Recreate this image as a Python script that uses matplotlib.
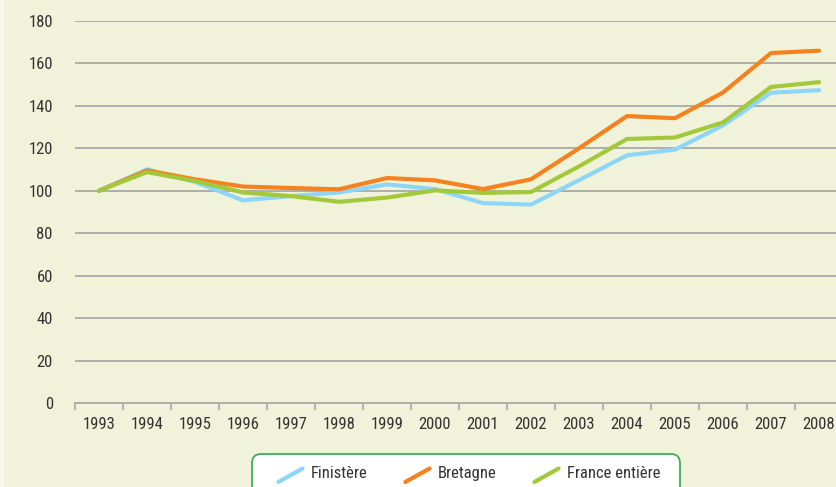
import matplotlib
matplotlib.use("Agg")
import matplotlib.pyplot as plt
from matplotlib import font_manager
from matplotlib.lines import Line2D
from matplotlib.legend_handler import HandlerBase
from matplotlib.patches import Rectangle, FancyBboxPatch

years = ["1993", "1994", "1995", "1996", "1997", "1998", "1999", "2000",
         "2001", "2002", "2003", "2004", "2005", "2006", "2007", "2008"]
finistere = [100, 110.1, 104.2, 95.5, 97.5, 99.2, 103, 100.8,
             94.2, 93.5, 105, 116.7, 119.4, 130.8, 146.2, 147.4]
bretagne = [100, 109.6, 105.4, 102, 101.3, 100.7, 106, 104.9,
            100.8, 105.4, 120, 135.2, 134.2, 146.3, 164.9, 166]
france = [100, 108.8, 104.6, 99.2, 97.5, 94.8, 96.8, 100.2,
          99, 99.4, 111.5, 124.4, 125.1, 132.2, 148.9, 151.2]
yticks = [0, 20, 40, 60, 80, 100, 120, 140, 160, 180]
series_names = ["Finistère", "Bretagne", "France entière"]

# choose a narrow sans font if one is installed
names = {f.name for f in font_manager.fontManager.ttflist}
condensed_files = [f for f in font_manager.fontManager.ttflist
                   if ("Condensed" in f.fname or "Narrow" in f.fname)
                   and "Bold" not in f.fname and "Oblique" not in f.fname
                   and "Italic" not in f.fname]
fam = "Liberation Sans"
stretch = "normal"
fsize = 11
for cand in ["Liberation Sans Narrow", "Arial Narrow", "Roboto Condensed",
             "Open Sans Condensed"]:
    if cand in names:
        fam, fsize = cand, 12
        break
else:
    for f in condensed_files:
        if f.name in ("DejaVu Sans", "Open Sans", "Noto Sans", "Roboto"):
            fam, stretch, fsize = f.name, "condensed", 11.5
            break
plt.rcParams["font.family"] = [fam, "DejaVu Sans"]
plt.rcParams["font.stretch"] = stretch

bg = "#F0F3DA"
txt = "#333333"
c_fin = "#8DD6F7"
c_bre = "#F5821F"
c_fra = "#A3C83A"

fig = plt.figure(figsize=(8.37, 4.87), dpi=100, facecolor=bg)
fig.patches.append(Rectangle((0, 0), 4 / 837, 1, transform=fig.transFigure,
                             facecolor="#F6F8EA", edgecolor="none", zorder=0))
ax = fig.add_axes([75 / 837, 1 - 403 / 487, 768 / 837, 382 / 487])
ax.set_facecolor(bg)

x = list(range(len(years)))
for yv in yticks[1:]:
    ax.axhline(yv, color="#A9A9A9", lw=1.3, zorder=1)

l1, = ax.plot(x, finistere, color=c_fin, lw=3.0, zorder=3, solid_capstyle="round", solid_joinstyle="round")
l2, = ax.plot(x, bretagne, color=c_bre, lw=3.0, zorder=4, solid_capstyle="round", solid_joinstyle="round")
l3, = ax.plot(x, france, color=c_fra, lw=3.0, zorder=5, solid_capstyle="round", solid_joinstyle="round")

ax.set_xlim(-0.5, len(years) - 0.5)
ax.set_ylim(0, 180)
ax.set_yticks(yticks)
ax.set_yticklabels([str(v) for v in yticks])
ax.set_xticks(x)
ax.set_xticklabels(years)
ax.set_xticks([i - 0.5 for i in range(len(years) + 1)], minor=True)
ax.tick_params(axis="x", which="major", length=0, pad=10, labelsize=fsize, labelcolor=txt)
ax.tick_params(axis="x", which="minor", length=5, width=1.2, color="#A9A9A9")
ax.tick_params(axis="y", length=0, pad=16, labelsize=fsize, labelcolor=txt)
for s in ["top", "right", "left"]:
    ax.spines[s].set_visible(False)
ax.spines["bottom"].set_color("#A9A9A9")
ax.spines["bottom"].set_linewidth(1.3)
ax.spines["bottom"].set_zorder(2)

# legend frame (rounded box, cut by the bottom edge)
frame = FancyBboxPatch((2.52, -0.30), 4.28, 0.63,
                       boxstyle="round,pad=0,rounding_size=0.09",
                       transform=fig.dpi_scale_trans, facecolor="white",
                       edgecolor="#3FAE5A", linewidth=1.3, zorder=5)
fig.patches.append(frame)


class DiagHandler(HandlerBase):
    def create_artists(self, legend, orig_handle, xdescent, ydescent,
                       width, height, fontsize, trans):
        ln = Line2D([-xdescent + 1, -xdescent + width - 1],
                    [-ydescent - 1.5, -ydescent + height - 2.5],
                    color=orig_handle.get_color(), lw=3.0, solid_capstyle="round")
        ln.set_transform(trans)
        return [ln]


h = DiagHandler()
lfs = 12
px = lfs * 100 / 72
handle_x = [277, 404, 533]
for handle, name, hx in zip([l1, l2, l3], series_names, handle_x):
    leg = fig.legend([handle], [name], loc="upper left",
                     bbox_to_anchor=(hx / 837, 1 - 465 / 487),
                     frameon=False, fontsize=lfs,
                     handlelength=27 / px, handleheight=1.0,
                     handletextpad=7 / px, borderpad=0, borderaxespad=0,
                     handler_map={handle: h})
    leg.set_zorder(6)
    for t in leg.get_texts():
        t.set_color(txt)

fig.savefig("out.png", dpi=100, facecolor=bg)
